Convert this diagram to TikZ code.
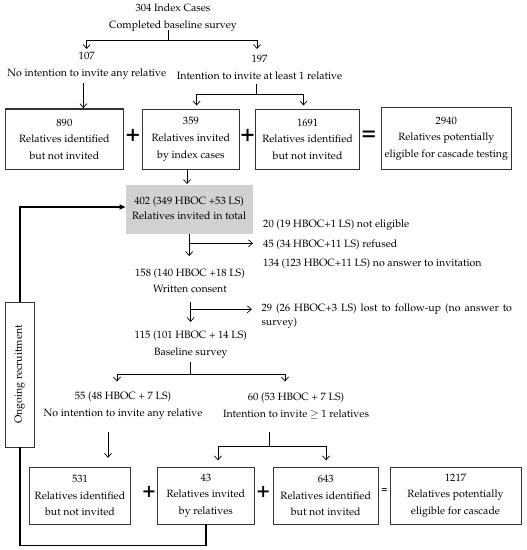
\documentclass[tikz,border=0pt]{standalone}
\usepackage[T1]{fontenc}
\usepackage{mathpazo}
\usepackage{graphicx}
\usetikzlibrary{arrows.meta}
\begin{document}
\begin{tikzpicture}[x=1pt,y=-1pt,
  txt/.style={inner sep=0pt, align=center, font=\fontsize{10.6}{17}\selectfont},
  bx/.style={draw=black!80, line width=0.8pt, inner sep=0pt, align=center, font=\fontsize{10.6}{16.6}\selectfont},
  ln/.style={line width=0.7pt},
  arr/.style={line width=0.7pt, -{Straight Barb[length=4pt,width=7pt]}},
  fb/.style={line width=1.5pt},
  fbarr/.style={line width=1.5pt, -{Triangle[length=6pt,width=5pt]}},
  op/.style={inner sep=0pt, font=\fontsize{24}{24}\selectfont\bfseries},
  opsm/.style={inner sep=0pt, font=\fontsize{22}{22}\selectfont\bfseries}
]
\useasboundingbox (0,0) rectangle (527,550);

% top
\node[txt] (n304) at (173,17.5) {304 Index Cases\\Completed baseline survey};
\coordinate (s1t) at (168,30);
\coordinate (s1) at (168,40);
\coordinate (s1l) at (86.7,40);
\coordinate (s1r) at (257,40);
\draw[ln] (s1t) -- (s1);
\draw[arr] (s1) -- (s1l) -- ++(0,9);
\draw[arr] (s1) -- (s1r) -- ++(0,9);

\node[txt, font=\fontsize{10.6}{17.6}\selectfont] (n107) at (86.7,65.8) {107\\No intention to invite any relative};
\node[txt, font=\fontsize{10.6}{17.6}\selectfont] (n197) at (259.5,67.3) {197\\Intention to invite at least 1 relative};

% first row of boxes
\node[bx, line width=1.6pt, minimum width=118pt, minimum height=60.7pt] (b1) at (64.4,139.3) {890\\Relatives identified\\but not invited};
\node[bx, minimum width=97.7pt, minimum height=60.7pt] (b2) at (190.9,139.3) {359\\Relatives invited\\by index cases};
\node[bx, minimum width=104.2pt, minimum height=60.7pt] (b3) at (307.6,139.3) {1691\\Relatives identified\\but not invited};
\node[bx, minimum width=130.6pt, minimum height=62pt] (b4) at (446.3,138.5) {2940\\Relatives potentially\\eligible for cascade testing};
\node[op] (p1) at (133,135.5) {+};
\node[op] (p2) at (247.6,135.5) {+};
\node[op] (e1) at (369,136) {=};

\coordinate (a1) at (83.4,83);
\draw[arr] (a1) -- (a1 |- b1.north);
\coordinate (s2t) at (256.5,84);
\coordinate (s2) at (256.5,94);
\coordinate (s2l) at (196.6,94);
\coordinate (s2r) at (303.5,94);
\draw[ln] (s2t) -- (s2);
\draw[arr] (s2) -- (s2l) -- ++(0,11.5);
\draw[arr] (s2) -- (s2r) -- ++(0,11.5);

% grey box
\node[inner sep=0pt, fill=black!18, minimum width=127pt, minimum height=48.5pt, align=center, text depth=3pt, font=\fontsize{10.6}{14.4}\selectfont] (g) at (189.2,209.7) {402 (349 HBOC +53 LS)\\Relatives invited in total};
\coordinate (a2) at (187,170);
\draw[arr] (b2.south -| a2) -- ++(0,14);

% exclusions 1
\coordinate (x1) at (189.2,256);
\coordinate (x1m) at (189.2,243.3);
\draw[arr] (g.south -| x1) -- (x1);
\node[txt, anchor=west, align=left, font=\fontsize{10.6}{19.2}\selectfont] (ex1) at (263,244.3) {20 (19 HBOC+1 LS) not eligible\\45 (34 HBOC+11 LS) refused\\134 (123 HBOC+11 LS) no answer to invitation};
\draw[arr, shorten >=10pt] (x1m) -- (x1m -| ex1.west);

\node[txt, font=\fontsize{10.6}{15.6}\selectfont] (n158) at (190,280.7) {158 (140 HBOC +18 LS)\\Written consent};

% exclusions 2
\coordinate (x2t) at (190.6,302);
\coordinate (x2) at (190.6,322);
\coordinate (x2m) at (190.6,309.3);
\draw[arr] (x2t) -- (x2);
\node[inner sep=0pt, text width=250.5pt, align=justify, font=\fontsize{10.6}{13.8}\selectfont] (ex2) at (386.75,316.5) {\tolerance=10000\hbadness=10000\hyphenpenalty=10000 29 (26 HBOC+3 LS) lost to follow-up (no answer to \mbox{survey)}};
\draw[arr, shorten >=9.5pt] (x2m) -- (x2m -| ex2.west);

\node[txt] (n115) at (190.8,344.5) {115 (101 HBOC + 14 LS)\\Baseline survey};
\coordinate (s3t) at (190.6,362.4);
\coordinate (s3) at (190.6,374);
\coordinate (s3l) at (117,374);
\coordinate (s3r) at (285,374);
\draw[ln] (s3t) -- (s3);
\draw[arr] (s3) -- (s3l) -- ++(0,7.5);
\draw[arr] (s3) -- (s3r) -- ++(0,7.5);

\node[txt, font=\fontsize{10.6}{16.3}\selectfont] (n55) at (123,405.8) {55 (48 HBOC + 7 LS)\\No intention to invite any relative};
\node[txt, font=\fontsize{10.6}{16.3}\selectfont] (n60) at (296,405.8) {60 (53 HBOC + 7 LS)\\Intention to invite $\geq$ 1 relatives};

% bottom row
\node[bx, minimum width=100.8pt, minimum height=57pt] (bA) at (80,495.5) {531\\Relatives identified\\but not invited};
\node[bx, minimum width=97.2pt, minimum height=57pt] (bB) at (205.9,495.5) {43\\Relatives invited\\by relatives};
\node[bx, minimum width=104.9pt, minimum height=57pt] (bC) at (325.75,495.5) {643\\Relatives identified\\but not invited};
\node[bx, minimum width=131pt, minimum height=57pt] (bD) at (455.5,495.5) {1217\\Relatives potentially\\eligible for cascade};
\node[opsm] (p3) at (149,491.5) {+};
\node[opsm] (p4) at (263.3,492) {+};
\node[inner sep=0pt, font=\fontsize{10}{10}\selectfont\bfseries] (e2) at (384.5,491) {=};

\coordinate (a3) at (108,432);
\draw[arr] (a3) -- ++(0,25.8);
\coordinate (s4t) at (269,432);
\coordinate (s4) at (269,446.4);
\coordinate (s4l) at (218,446.4);
\coordinate (s4r) at (326,446.4);
\draw[ln] (s4t) -- (s4);
\draw[arr] (s4) -- (s4l) -- ++(0,14);
\draw[arr] (s4) -- (s4r) -- ++(0,14);

% ongoing recruitment loop
\node[draw=black!80, line width=0.8pt, inner sep=0pt, minimum width=29.6pt, minimum height=145pt, font=\fontsize{10.6}{12}\selectfont] (og) at (19.8,374.5) {\rotatebox{90}{Ongoing recruitment}};
\coordinate (fbc) at (19.8,207);
\coordinate (fbb) at (19.8,545.5);
\draw[fbarr] (og.north) -- (fbc) -- (fbc -| g.west);
\draw[fb] (og.south) -- (fbb) -| (bB.south);
\end{tikzpicture}
\end{document}
